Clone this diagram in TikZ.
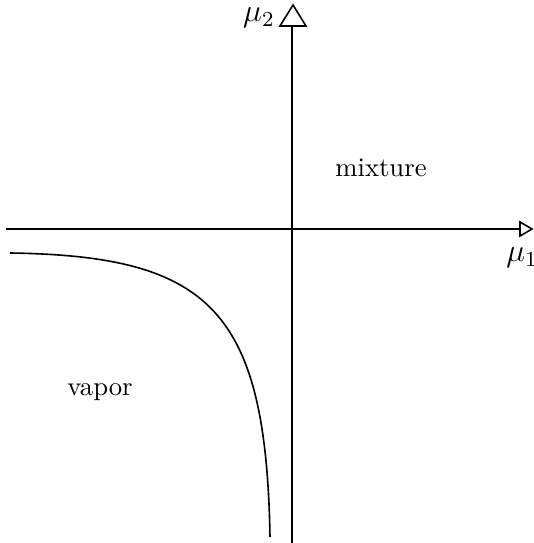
\documentclass[tikz,border=0pt]{standalone}
\begin{document}
\begin{tikzpicture}[x=0.375pt,y=-0.375pt,
  axis/.style={line width=0.75pt},
  head/.style={line width=0.6pt,fill=white},
  curve/.style={line width=0.6pt},
  lbl/.style={inner sep=0pt}]
\useasboundingbox (0,0) rectangle (533,543);
% axes
\coordinate (xl) at (6,229);
\coordinate (xr) at (520,229);
\coordinate (yb) at (292,543);
\coordinate (yt) at (292,26);
\draw[axis] (xl) -- (xr);
\draw[axis] (yb) -- (yt);
% arrowheads
\draw[head] (520,222) -- (532,229) -- (520,236) -- cycle;
\draw[head] (280,26) -- (293,5) -- (306,26) -- cycle;
% labels
\node[lbl,font=\large] (mu2) at (259,18) {$\mu_2$};
\node[lbl,font=\large] (mu1) at (522,258) {$\mu_1$};
\node[lbl] (mix) at (381,168) {mixture};
\node[lbl] (vap) at (100,392) {vapor};
% curve
\coordinate (cs) at (10,253);
\coordinate (ce) at (270,537);
\draw[curve] (cs) .. controls (210,256) and (266,310) .. (ce);
\end{tikzpicture}
\end{document}
